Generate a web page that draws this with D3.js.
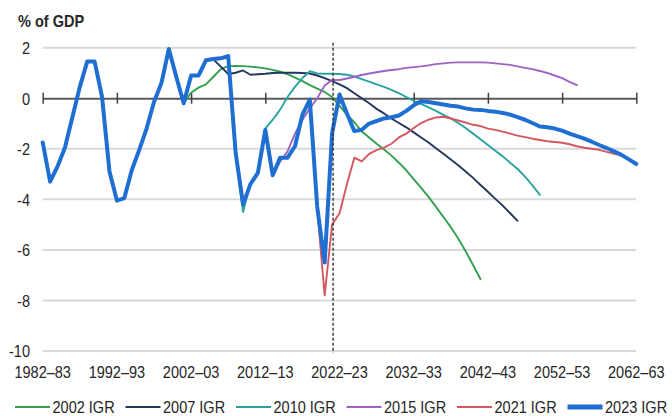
<!DOCTYPE html>
<html>
<head>
<meta charset="utf-8">
<script src="https://cdn.jsdelivr.net/npm/d3@7"></script>
<style>
  html, body { margin: 0; padding: 0; background: #fff; }
  svg { display: block; font-family: "Liberation Sans", Arial, sans-serif; }
</style>
</head>
<body>
<svg id="chart" width="672" height="416"></svg>
<script>
// ---------- DATA ----------
const firstYear = 1982, lastYear = 2062;
const categories = d3.range(firstYear, lastYear + 1).map(y => `${y}–${String(y + 1).slice(2)}`);
const tickLabels = ["1982–83", "1992–93", "2002–03", "2012–13", "2022–23", "2032–33", "2042–43", "2052–53", "2062–63"];
const yTicks = [2, 0, -2, -4, -6, -8, -10];
const dividerAt = "2021–22";

const igr2002Start = "2000–01";
const igr2002 = [0.85, -0.2, 0.22, 0.42, 0.55, 0.85, 1.15, 1.27, 1.28, 1.27,
  1.25, 1.22, 1.18, 1.12, 1.05, 0.95, 0.82, 0.68, 0.52, 0.38,
  0.25, 0.05, -0.3, -0.65, -0.95, -1.32, -1.55, -1.8, -2.03, -2.27,
  -2.55, -2.85, -3.2, -3.55, -3.9, -4.3, -4.7, -5.1, -5.55, -6.05,
  -6.6, -7.15];

const igr2007Start = "2005–06";
const igr2007 = [1.54, 1.25, 0.96, 1.01, 1.1, 0.93, 0.95, 0.97, 1.0, 1.01,
  1.01, 1.01, 1.0, 0.98, 0.9, 0.8, 0.68, 0.55, 0.4, 0.2,
  0.0, -0.2, -0.42, -0.6, -0.8, -0.98, -1.15, -1.35, -1.55, -1.75,
  -1.98, -2.2, -2.42, -2.65, -2.9, -3.15, -3.43, -3.7, -3.98, -4.25,
  -4.55, -4.85];

const igr2010Start = "2008–09";
const igr2010 = [-2.15, -4.5, -3.35, -2.9, -1.2, -0.85, -0.45, 0.05, 0.45, 0.8,
  1.07, 0.98, 0.97, 0.97, 0.96, 0.93, 0.86, 0.76, 0.66, 0.55,
  0.45, 0.33, 0.2, 0.05, -0.1, -0.22, -0.36, -0.5, -0.66, -0.8,
  -0.98, -1.18, -1.4, -1.62, -1.85, -2.08, -2.3, -2.55, -2.8, -3.1,
  -3.45, -3.82];

const igr2015Start = "2013–14";
const igr2015 = [-3.05, -2.5, -2.1, -1.4, -0.85, -0.4, 0.0, 0.5, 0.72, 0.72,
  0.78, 0.85, 0.92, 0.98, 1.03, 1.08, 1.12, 1.15, 1.2, 1.23,
  1.26, 1.3, 1.35, 1.38, 1.41, 1.42, 1.42, 1.42, 1.42, 1.41,
  1.38, 1.35, 1.32, 1.26, 1.2, 1.15, 1.08, 1.0, 0.9, 0.8,
  0.65, 0.52];

const igr2021Start = "2019–20";
const igr2021 = [-4.4, -7.8, -5.0, -4.55, -3.4, -2.35, -2.5, -2.2, -2.05, -1.95,
  -1.8, -1.55, -1.4, -1.18, -0.98, -0.85, -0.76, -0.73, -0.8, -0.88,
  -0.96, -1.05, -1.1, -1.2, -1.25, -1.32, -1.4, -1.48, -1.54, -1.6,
  -1.65, -1.7, -1.73, -1.76, -1.82, -1.9, -1.96, -2.0, -2.04, -2.12,
  -2.2, -2.26];

const igr2023Start = "1982–83";
const igr2023 = [-1.75, -3.3, -2.7, -1.95, -0.75, 0.45, 1.45, 1.45, 0.05, -2.9,
  -4.05, -3.95, -2.85, -2.05, -1.2, -0.15, 0.6, 1.95, 0.85, -0.2,
  0.9, 0.9, 1.5, 1.55, 1.58, 1.67, -2.15, -4.2, -3.4, -2.95,
  -1.25, -3.05, -2.35, -2.35, -1.9, -0.65, -0.05, -4.3, -6.5, -1.4,
  0.15, -0.6, -1.3, -1.25, -1.0, -0.9, -0.8, -0.75, -0.68, -0.5,
  -0.28, -0.12, -0.15, -0.2, -0.25, -0.3, -0.33, -0.4, -0.45, -0.46,
  -0.5, -0.53, -0.58, -0.65, -0.75, -0.85, -0.98, -1.12, -1.15, -1.2,
  -1.28, -1.4, -1.5, -1.6, -1.72, -1.85, -1.97, -2.1, -2.24, -2.42,
  -2.6];

const seriesNames = ["2002 IGR", "2007 IGR", "2010 IGR", "2015 IGR", "2021 IGR", "2023 IGR"];
const seriesStarts = [igr2002Start, igr2007Start, igr2010Start, igr2015Start, igr2021Start, igr2023Start];
const seriesValues = [igr2002, igr2007, igr2010, igr2015, igr2021, igr2023];

// ---------- STYLE ----------
const colors = ["#33a04f", "#22375a", "#2ba2a2", "#9f62c4", "#d4585f", "#1f6fd3"];
const widths = [1.9, 1.9, 1.9, 1.9, 1.9, 4];
const textColor = "#262626";
const fs = 16.5, sx = 0.88;

// ---------- CHART ----------
const svg = d3.select("#chart");
const x = d3.scalePoint().domain(categories).range([42.7, 636.3]);
const y = d3.scaleLinear().domain([-10, 2]).range([351, 47.7]);

function label(g, px, py, str, anchor, bold) {
  return g.append("text")
    .attr("transform", `translate(${px},${py}) scale(${sx},1)`)
    .attr("text-anchor", anchor || "start")
    .attr("font-size", fs)
    .attr("font-weight", bold ? "bold" : "normal")
    .attr("fill", textColor)
    .text(str);
}

// gridlines
svg.append("g").selectAll("line")
  .data(yTicks.filter(d => d !== 0))
  .join("line")
  .attr("x1", x(categories[0])).attr("x2", x(categories[categories.length - 1]))
  .attr("y1", d => y(d)).attr("y2", d => y(d))
  .attr("stroke", "#d9d9d9").attr("stroke-width", 2);

// y labels
const yl = svg.append("g");
yTicks.forEach(v => label(yl, 30, y(v) + 6.3, String(v), "end"));

// zero axis with ticks
const xAxis = d3.axisBottom(x).tickValues(tickLabels).tickSize(0).tickFormat("");
const axisG = svg.append("g").attr("transform", `translate(0,${y(0)})`).call(xAxis);
axisG.select(".domain").attr("stroke", "#5a5a5a").attr("stroke-width", 2);
axisG.selectAll(".tick line").attr("y1", -5.5).attr("y2", 5.5)
  .attr("stroke", "#404040").attr("stroke-width", 1.5);

// x labels at bottom
const xl = svg.append("g");
tickLabels.forEach(t => label(xl, x(t), 378.3, t, "middle"));

// lines
const line = d3.line().x(d => x(d.cat)).y(d => y(d.v));
seriesValues.forEach((vals, k) => {
  const s0 = categories.indexOf(seriesStarts[k]);
  const pts = vals.map((v, j) => ({ cat: categories[s0 + j], v }));
  svg.append("path")
    .datum(pts)
    .attr("d", line)
    .attr("fill", "none")
    .attr("stroke", colors[k])
    .attr("stroke-width", widths[k])
    .attr("stroke-linejoin", "round")
    .attr("stroke-linecap", "round");
});

// divider
svg.append("line")
  .attr("x1", x(dividerAt) + 1).attr("x2", x(dividerAt) + 1)
  .attr("y1", y(2) - 5).attr("y2", y(-10) + 2)
  .attr("stroke", "#333").attr("stroke-width", 1.4)
  .attr("stroke-dasharray", "3,2");

// title
label(svg, 18, 26.5, "% of GDP", "start", true);

// legend
const legG = svg.append("g");
seriesNames.forEach((name, i) => {
  const gx = 15 + i * 110.5;
  legG.append("line")
    .attr("x1", gx).attr("x2", gx + 35).attr("y1", 407).attr("y2", 407)
    .attr("stroke", colors[i])
    .attr("stroke-width", i === 5 ? 5 : 2);
  label(legG, gx + 37.5, 413, name, "start");
});
</script>
</body>
</html>
